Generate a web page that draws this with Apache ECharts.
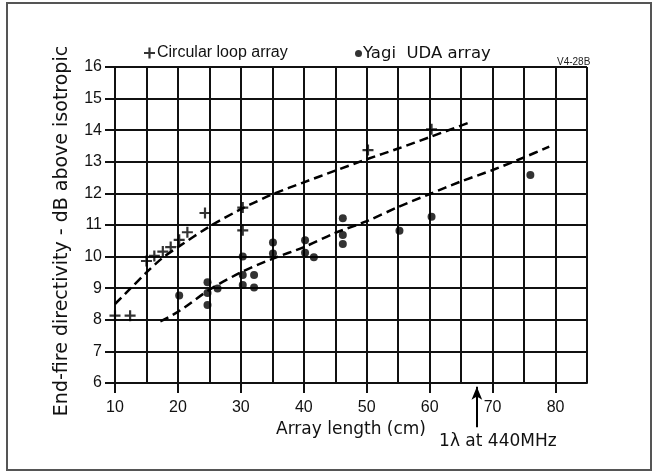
<!DOCTYPE html>
<html>
<head>
<meta charset="utf-8">
<script src="https://cdn.jsdelivr.net/npm/echarts@6/dist/echarts.min.js"></script>
<style>
  html, body { margin: 0; padding: 0; background: #fff; }
  #chart { width: 656px; height: 475px; }
</style>
</head>
<body>
<div id="chart"></div>
<script>
  // circular loop array measurements (+)
  const loopX = [10, 12.4, 15.0, 16.25, 17.6, 18.85, 20.2, 21.5, 24.3, 30.3, 30.3, 50.2, 60.3]
  const loopY = [8.13, 8.13, 9.86, 10.02, 10.16, 10.3, 10.53, 10.77, 11.38, 11.55, 10.83, 13.37, 14.03]

  // yagi uda array measurements (dots)
  const yagiX = [20.2, 24.7, 24.7, 24.7, 26.3, 30.3, 30.3, 30.3, 32.1, 32.1, 35.1, 35.1, 40.2, 40.2, 41.6, 46.2, 46.2, 46.2, 55.2, 60.3, 76]
  const yagiY = [8.77, 9.19, 8.85, 8.47, 8.99, 10.0, 9.42, 9.1, 9.42, 9.02, 10.45, 10.1, 10.52, 10.12, 9.98, 11.21, 10.68, 10.4, 10.82, 11.26, 12.58]

  // dashed trend curves
  const loopTrendX = [10, 12.5, 15, 17.5, 20, 25, 30, 35, 40, 45, 50, 55, 60, 66.4]
  const loopTrendY = [8.5, 9.0, 9.5, 9.95, 10.3, 10.95, 11.5, 11.97, 12.35, 12.72, 13.08, 13.42, 13.78, 14.25]
  const yagiTrendX = [17.2, 20, 25, 30, 35, 40, 45, 50, 55, 60, 65, 70, 75, 79]
  const yagiTrendY = [7.95, 8.25, 8.95, 9.5, 9.93, 10.3, 10.75, 11.12, 11.57, 11.98, 12.38, 12.74, 13.14, 13.48]

  const xTicks = [10, 20, 30, 40, 50, 60, 70, 80]

  // 1 wavelength at 440 MHz, arrow drawn in the strip under the plot (0..1)
  const lambdaX = 67.5
  const lambdaY = [0.06, 0.92]

  const zip = (xs, ys) => xs.map((x, i) => [x, ys[i]])

  const plusPath = 'path://M4,0h2v4h4v2h-4v4h-2v-4h-4v-2h4z'
  const sans = 'Liberation Sans'
  const dejavu = 'DejaVu Sans'
  const ink = '#111'

  function drawChart() {
    const myChart = echarts.init(document.getElementById('chart'), null, { renderer: 'canvas' })
    const option = {
      animation: false,
      backgroundColor: '#fff',
      title: {
        text: 'V4-28B',
        left: 552,
        top: 52,
        textStyle: { fontFamily: sans, fontSize: 10, fontWeight: 'normal', color: '#222' }
      },
      legend: [
        {
          data: [{ name: 'Circular loop array', icon: plusPath }],
          left: 139,
          top: 40,
          itemWidth: 11,
          itemHeight: 11,
          textStyle: { fontFamily: sans, fontSize: 16, color: ink, padding: [0, 0, 0, -3] }
        },
        {
          data: [{ name: 'Yagi UDA array', icon: 'circle' }],
          left: 350,
          top: 40,
          itemWidth: 7,
          itemHeight: 7,
          formatter: () => 'Yagi  UDA array',
          textStyle: { fontFamily: dejavu, fontSize: 16.5, color: ink, padding: [0, 0, 0, -4] }
        }
      ],
      graphic: [
        {
          type: 'rect',
          shape: { x: 7, y: 3, width: 644, height: 467 },
          style: { fill: 'none', stroke: '#555', lineWidth: 2 }
        }
      ],
      grid: [
        { left: 115, right: 69, top: 67, bottom: 92 },
        { left: 115, right: 69, top: 383, height: 47 }
      ],
      xAxis: [
        {
          type: 'value',
          min: 10,
          max: 85,
          interval: 5,
          name: 'Array length (cm)',
          nameLocation: 'middle',
          nameGap: 36,
          nameTextStyle: { fontFamily: dejavu, fontSize: 17, color: ink },
          axisLine: { lineStyle: { color: ink, width: 2 } },
          axisTick: { show: false },
          axisLabel: {
            margin: 17,
            fontFamily: sans,
            fontSize: 16,
            color: ink,
            formatter: v => (v % 10 === 0 && v < 85 ? String(v) : '')
          },
          splitLine: { show: true, lineStyle: { color: ink, width: 2 } }
        },
        {
          // strip under the plot: carries the longer ticks at every 10 cm
          type: 'value',
          gridIndex: 1,
          position: 'top',
          min: 10,
          max: 85,
          interval: 5,
          axisLine: { show: false, onZero: false },
          axisTick: { show: true, inside: true, length: 10, customValues: xTicks, lineStyle: { color: ink, width: 2 } },
          axisLabel: { show: false },
          splitLine: { show: false }
        }
      ],
      yAxis: [
        {
          type: 'value',
          min: 6,
          max: 16,
          interval: 1,
          name: 'End-fire directivity - dB above isotropic',
          nameLocation: 'middle',
          nameGap: 43,
          nameTextStyle: { fontFamily: dejavu, fontSize: 19, color: ink, padding: [0, 12, 0, 0] },
          axisLine: { show: true, lineStyle: { color: ink, width: 2 } },
          axisTick: { show: true, length: 10, lineStyle: { color: ink, width: 2 } },
          axisLabel: { margin: 13, fontFamily: sans, fontSize: 16, color: ink },
          splitLine: { show: true, lineStyle: { color: ink, width: 2 } }
        },
        {
          type: 'value',
          gridIndex: 1,
          min: 0,
          max: 1,
          show: false
        }
      ],
      series: [
        {
          name: 'Circular loop trend',
          type: 'line',
          data: zip(loopTrendX, loopTrendY),
          smooth: 0.3,
          showSymbol: false,
          lineStyle: { color: '#000', width: 2.5, type: [9, 5] },
          z: 3
        },
        {
          name: 'Yagi UDA trend',
          type: 'line',
          data: zip(yagiTrendX, yagiTrendY),
          smooth: 0.3,
          showSymbol: false,
          lineStyle: { color: '#000', width: 2.5, type: [9, 5] },
          z: 3
        },
        {
          name: 'Circular loop array',
          type: 'scatter',
          data: zip(loopX, loopY),
          symbol: plusPath,
          symbolSize: 11,
          itemStyle: { color: '#000' },
          z: 4
        },
        {
          name: 'Yagi UDA array',
          type: 'scatter',
          data: zip(yagiX, yagiY),
          symbol: 'circle',
          symbolSize: 8,
          itemStyle: { color: '#000' },
          z: 4
        },
        {
          name: '1λ at 440MHz',
          type: 'scatter',
          xAxisIndex: 1,
          yAxisIndex: 1,
          data: [[lambdaX, lambdaY[0]]],
          symbolSize: 0,
          itemStyle: { opacity: 0 },
          markLine: {
            silent: true,
            symbol: ['none', 'arrow'],
            symbolSize: [8, 13],
            lineStyle: { color: '#000', width: 2, type: 'solid' },
            label: {
              show: true,
              position: 'start',
              distance: 6,
              formatter: '1λ at 440MHz',
              fontFamily: dejavu,
              fontSize: 17,
              color: ink,
              padding: [0, 0, 0, 42]
            },
            data: [
              [{ coord: [lambdaX, lambdaY[0]] }, { coord: [lambdaX, lambdaY[1]] }]
            ]
          }
        }
      ]
    }
    myChart.setOption(option)
  }

  drawChart()
</script>
</body>
</html>
